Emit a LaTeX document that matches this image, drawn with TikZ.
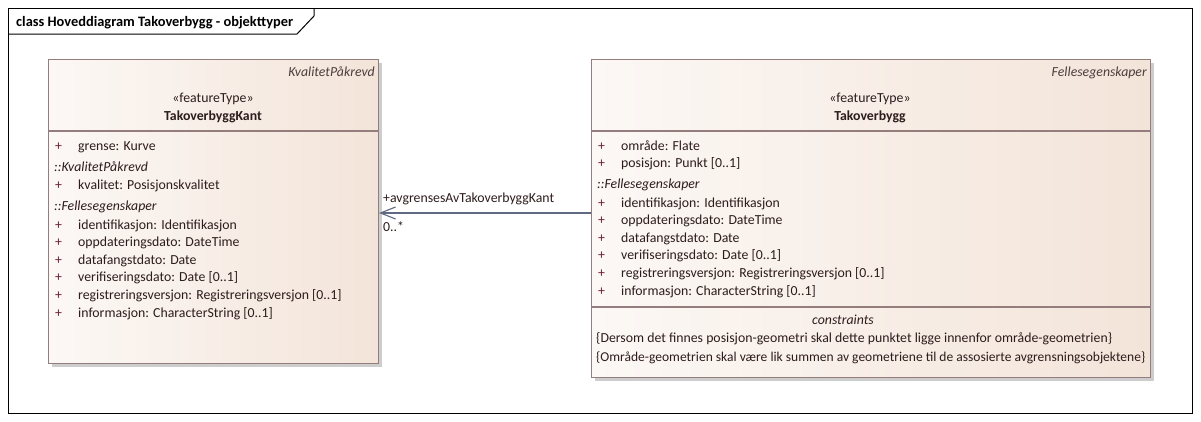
\documentclass[tikz,border=0pt]{standalone}
\usepackage{fontspec}
\setmainfont{Carlito}
\usetikzlibrary{arrows.meta}
\definecolor{boxborder}{RGB}{150,125,125}
\definecolor{fillL}{RGB}{252,248,245}
\definecolor{fillR}{RGB}{243,228,217}
\definecolor{shadowgray}{RGB}{205,205,205}
\definecolor{txt}{RGB}{45,28,28}
\definecolor{pluscol}{RGB}{105,30,60}
\definecolor{conn}{RGB}{95,105,130}
\newcommand{\fs}{\fontsize{13.8}{16}\selectfont}
\tikzset{
  cls/.style={draw=boxborder, line width=1.1pt, left color=fillL, right color=fillR, anchor=north west, inner sep=0pt},
  sep/.style={draw=boxborder, line width=1.1pt},
  shadowbox/.style={fill=shadowgray, draw=none},
  attr/.style={anchor=base west, inner sep=0pt, text=txt, font=\fs},
  plus/.style={anchor=base west, inner sep=0pt, text=pluscol, font=\fs},
  grp/.style={anchor=base west, inner sep=0pt, text=txt, font=\fs\itshape},
  stereo/.style={anchor=base, inner sep=0pt, text=txt, font=\fs},
  cname/.style={anchor=base, inner sep=0pt, text=txt, font=\fs\bfseries},
  parent/.style={anchor=base east, inner sep=0pt, text=txt!85, font=\fs\itshape},
  assoc/.style={draw=conn, line width=1.1pt},
  lbl/.style={inner sep=0pt, text=txt, font=\fs}
}
\begin{document}
\begin{tikzpicture}[x=1pt,y=-1pt]
\useasboundingbox (0,0) rectangle (1201,421);
% frame
\draw[line width=1pt, black] (8,8) rectangle (1192,413);
\draw[line width=1pt, black] (8,34) -- (297,34) -- (314,16) -- (314,8);
\node[anchor=base west, inner sep=0pt, font=\fontsize{14.4}{16}\selectfont\bfseries] (title) at (16,26) {class Hoveddiagram Takoverbygg - objekttyper};

% ---------- TakoverbyggKant ----------
\fill[shadowbox] (52,63) rectangle (382,367);
\node[cls, minimum width=330pt, minimum height=304pt] (kant) at (48,59) {};
\draw[sep] (48,131) -- (378,131);
\node[parent] (kantpar) at (375,76) {KvalitetPåkrevd};
\node[stereo] (kantst) at (213,102) {«featureType»};
\node[cname] (kantnm) at (213,120) {TakoverbyggKant};
\foreach \y/\t in {150/{grense: Kurve},189/{kvalitet: Posisjonskvalitet},229/{identifikasjon: Identifikasjon},246/{oppdateringsdato: DateTime},264/{datafangstdato: Date},281/{verifiseringsdato: Date [0..1]},299/{registreringsversjon: Registreringsversjon [0..1]},317/{informasjon: CharacterString [0..1]}}{
  \node[plus] at (55,\y) {+};
  \node[attr] at (78,\y) {\t};
}
\node[grp] (kg1) at (54,171) {::KvalitetPåkrevd};
\node[grp] (kg2) at (54,210) {::Fellesegenskaper};

% ---------- Takoverbygg ----------
\fill[shadowbox] (595,63) rectangle (1154,381);
\node[cls, minimum width=559pt, minimum height=318pt] (tako) at (591,59) {};
\draw[sep] (591,131) -- (1150,131);
\draw[sep] (591,307) -- (1150,307);
\node[parent] (takopar) at (1147,76) {Fellesegenskaper};
\node[stereo] (takost) at (870,102) {«featureType»};
\node[cname] (takonm) at (870,120) {Takoverbygg};
\foreach \y/\t in {150/{område: Flate},167/{posisjon: Punkt [0..1]},207/{identifikasjon: Identifikasjon},224/{oppdateringsdato: DateTime},242/{datafangstdato: Date},259/{verifiseringsdato: Date [0..1]},277/{registreringsversjon: Registreringsversjon [0..1]},295/{informasjon: CharacterString [0..1]}}{
  \node[plus] at (598,\y) {+};
  \node[attr] at (621,\y) {\t};
}
\node[grp] (tg1) at (597,188) {::Fellesegenskaper};
\node[stereo, font=\fs\itshape] (cons) at (843,324) {constraints};
\node[attr] (c1) at (596,342) {\{Dersom det finnes posisjon-geometri skal dette punktet ligge innenfor område-geometrien\}};
\node[attr] (c2) at (596,361) {\resizebox{549pt}{!}{\{Område-geometrien skal være lik summen av geometriene til de assosierte avgrensningsobjektene\}}};

% ---------- association ----------
\draw[assoc, -{Straight Barb[length=15pt,width=12pt,line width=1.1pt]}] (tako.west |- 0,213) coordinate (aend) -- (kant.east |- 0,213) coordinate (astart);
\node[lbl, anchor=base west] (rolename) at (383,202) {+avgrensesAvTakoverbyggKant};
\node[lbl, anchor=base west] (mult) at (383,231) {0..*};
\end{tikzpicture}
\end{document}
